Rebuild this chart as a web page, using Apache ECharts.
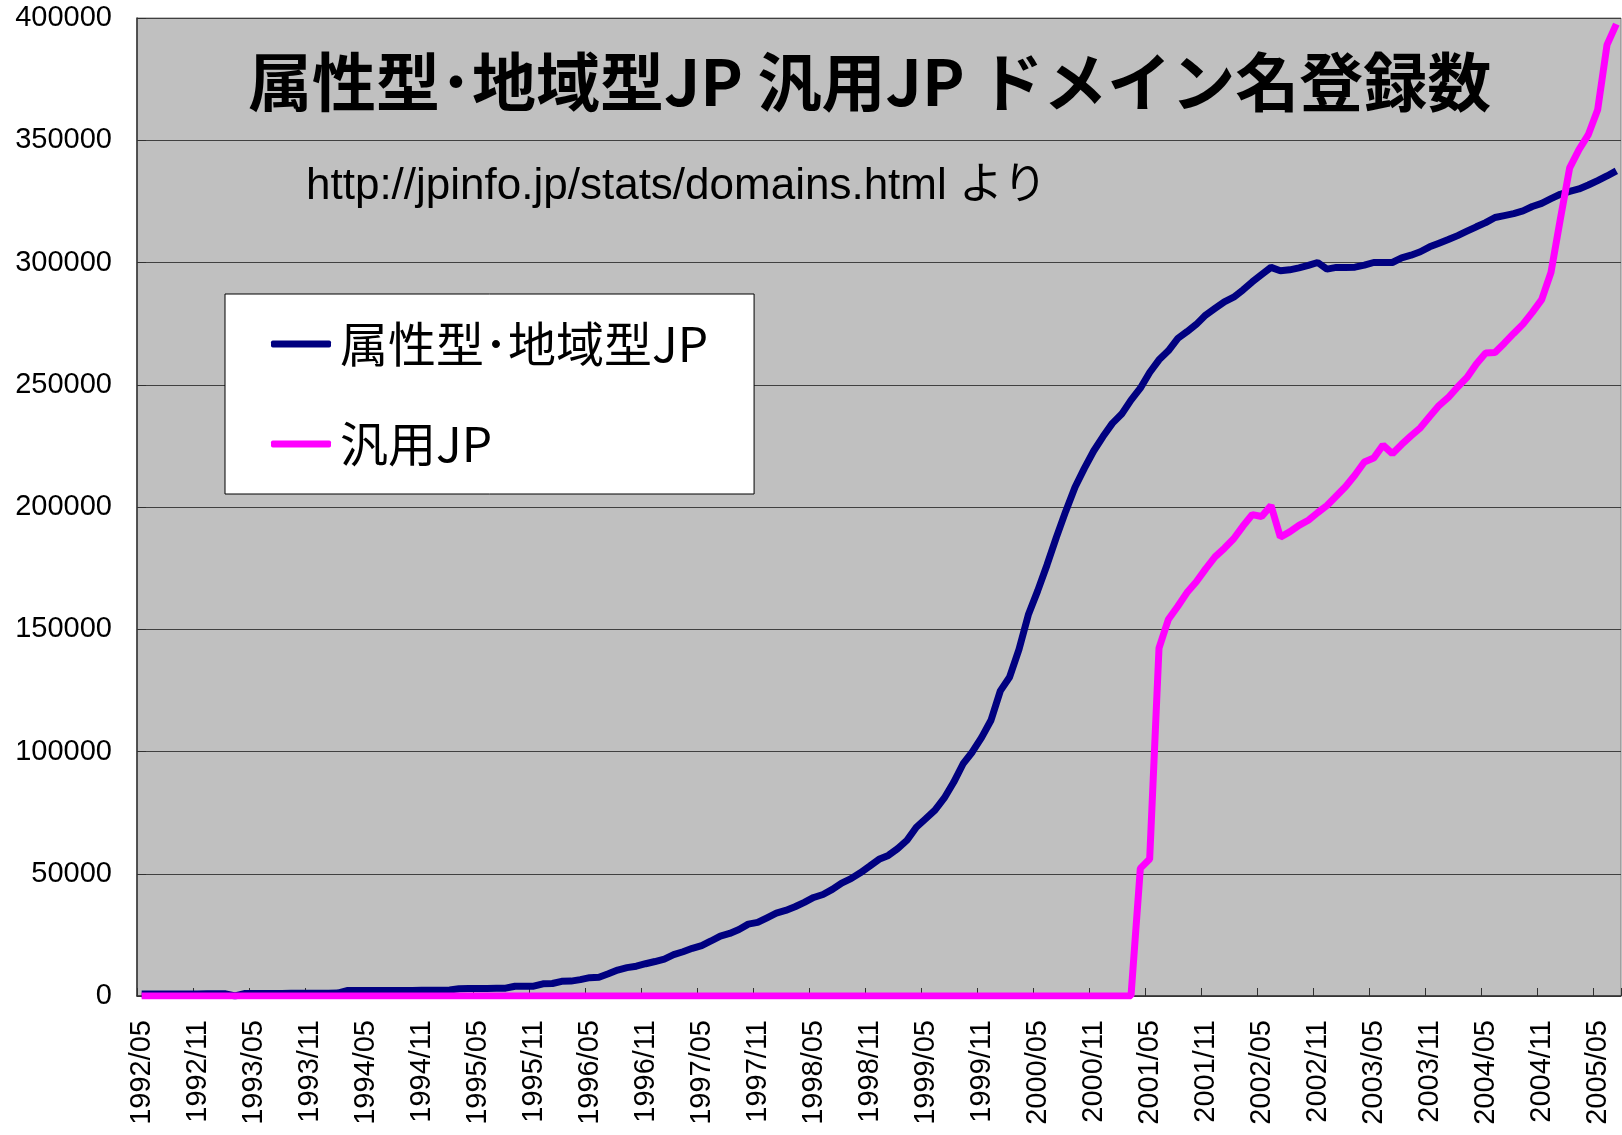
<!DOCTYPE html>
<html>
<head>
<meta charset="utf-8">
<script src="https://cdn.jsdelivr.net/npm/echarts@6/dist/echarts.min.js"></script>
<style>
html,body{margin:0;padding:0;background:#fff;}
#chart{width:1622px;height:1135px;}
</style>
</head>
<body>
<div id="chart"></div>
<script>
// Months 1992/05 .. 2005/07 (159 monthly categories)
const startYear = 1992, startMonth = 5, monthCount = 159;
const categories = [];
for (let k = 0; k < monthCount; k++) {
  const m = startMonth - 1 + k;
  const y = startYear + Math.floor(m / 12);
  const mm = (m % 12) + 1;
  categories.push(y + '/' + (mm < 10 ? '0' + mm : mm));
}

const seriesNames = ['属性型･地域型JP', '汎用JP'];

// 属性型・地域型JP (monthly)
const attrGeoJP = [
  800, 800, 800, 800, 850, 850, 850, 900, 900, 900,
  0, 1000, 1000, 1000, 1050, 1050, 1100, 1100, 1100, 1150,
  1150, 1200, 2200, 2200, 2200, 2250, 2250, 2300, 2300, 2300,
  2350, 2350, 2400, 2450, 3000, 3050, 3100, 3100, 3150, 3200,
  4000, 4000, 4000, 5000, 5100, 6000, 6100, 6700, 7500, 7700,
  9100, 10600, 11600, 12200, 13200, 14100, 15100, 16900, 18100, 19500,
  20600, 22500, 24500, 25600, 27200, 29400, 30100, 32000, 33900, 35000,
  36500, 38300, 40300, 41500, 43600, 46200, 48000, 50400, 53100, 55900,
  57500, 60300, 63700, 69000, 72500, 76000, 81000, 87400, 94900, 99800,
  105800, 112800, 124800, 130500, 141800, 155900, 165700, 176300, 187600, 198200,
  208100, 215800, 222900, 228800, 234200, 238000, 243700, 248600, 255000, 260200,
  263900, 268900, 271700, 274700, 278500, 281200, 283900, 285800, 288800, 292100,
  295100, 298000, 296600, 297000, 297800, 298800, 300000, 297300, 298000, 298000,
  298100, 298900, 300000, 300000, 300000, 301900, 303000, 304400, 306400, 307900,
  309400, 311000, 312800, 314600, 316300, 318400, 319200, 320000, 321100, 322900,
  324200, 326100, 327900, 329100, 330100, 331700, 333500, 335400, 337500
];

// 汎用JP (monthly; zero before 2001/04)
const genericJP = [
  0,0,0,0,0,0,0,0,0,0, 0,0,0,0,0,0,0,0,0,0,
  0,0,0,0,0,0,0,0,0,0, 0,0,0,0,0,0,0,0,0,0,
  0,0,0,0,0,0,0,0,0,0, 0,0,0,0,0,0,0,0,0,0,
  0,0,0,0,0,0,0,0,0,0, 0,0,0,0,0,0,0,0,0,0,
  0,0,0,0,0,0,0,0,0,0, 0,0,0,0,0,0,0,0,0,0,
  0,0,0,0,0,0,0,
  52200, 56000, 142300, 154000, 159300, 165000, 169400, 174700, 179600, 183100,
  187000, 192200, 196900, 196100, 200600, 187700, 189800, 192500, 194600, 197700,
  200600, 204500, 208400, 213100, 218400, 220000, 225300, 221800, 225600, 229100,
  232400, 237000, 241500, 244800, 249100, 253000, 258500, 263000, 263200, 267000,
  271000, 274800, 279600, 284800, 296000, 317700, 338700, 346200, 352300, 362500,
  389000, 397500
];

const yMin = 0, yMax = 400000, yStep = 50000;
const titleText = '属性型･地域型JP 汎用JP ドメイン名登録数';
const subText = 'http://jpinfo.jp/stats/domains.html より';

const chart = echarts.init(document.getElementById('chart'), null, {renderer: 'canvas'});
const latin = "'Liberation Sans', Arial, sans-serif";
const cjk = "'Noto Sans CJK JP', 'Noto Sans', sans-serif";

chart.setOption({
  animation: false,
  backgroundColor: '#ffffff',
  title: [
    {
      text: titleText, left: 248, top: 50, padding: 0,
      textStyle: {fontSize: 64, fontWeight: 'bold', fontFamily: cjk, color: '#000'}
    },
    {
      text: subText, left: 306, top: 165, padding: 0,
      textStyle: {fontSize: 44, fontWeight: 'normal', fontFamily: "'Liberation Sans', 'Noto Sans CJK JP', sans-serif", color: '#000'}
    }
  ],
  legend: {
    left: 225, top: 294, orient: 'vertical',
    padding: [26, 46, 26, 46],
    itemGap: 52, itemWidth: 60, itemHeight: 7,
    icon: 'roundRect',
    backgroundColor: '#ffffff', borderColor: '#000000', borderWidth: 1,
    textStyle: {fontSize: 48, fontFamily: cjk, color: '#000', padding: [0, 0, 0, 4]},
    data: seriesNames
  },
  grid: {
    left: 137, right: 1, top: 18, bottom: 139,
    show: true, backgroundColor: '#C0C0C0', borderColor: '#808080', borderWidth: 1
  },
  xAxis: {
    type: 'category', boundaryGap: true, data: categories,
    axisLine: {show: true, lineStyle: {color: '#303030', width: 1.5}},
    axisTick: {show: true, interval: 5, inside: true, length: 8, lineStyle: {color: '#303030'}},
    axisLabel: {interval: 5, rotate: 90, margin: 24, fontSize: 29, fontFamily: latin, color: '#000'},
    splitLine: {show: false}
  },
  yAxis: {
    type: 'value', min: yMin, max: yMax, interval: yStep,
    axisLine: {show: true, lineStyle: {color: '#303030', width: 1.5}},
    axisTick: {show: true, inside: true, length: 9, lineStyle: {color: '#303030'}},
    axisLabel: {
      margin: 25, fontSize: 29, fontFamily: latin, color: '#000', padding: [8, 0, 0, 0],
      formatter: function (v) { return String(v); }
    },
    splitLine: {show: true, lineStyle: {color: '#404040', width: 1}}
  },
  series: [
    {
      name: seriesNames[0], type: 'line', data: attrGeoJP, symbol: 'none',
      lineStyle: {color: '#000080', width: 7}, itemStyle: {color: '#000080'}
    },
    {
      name: seriesNames[1], type: 'line', data: genericJP, symbol: 'none',
      lineStyle: {color: '#FF00FF', width: 7}, itemStyle: {color: '#FF00FF'}
    }
  ]
});
</script>
</body>
</html>
